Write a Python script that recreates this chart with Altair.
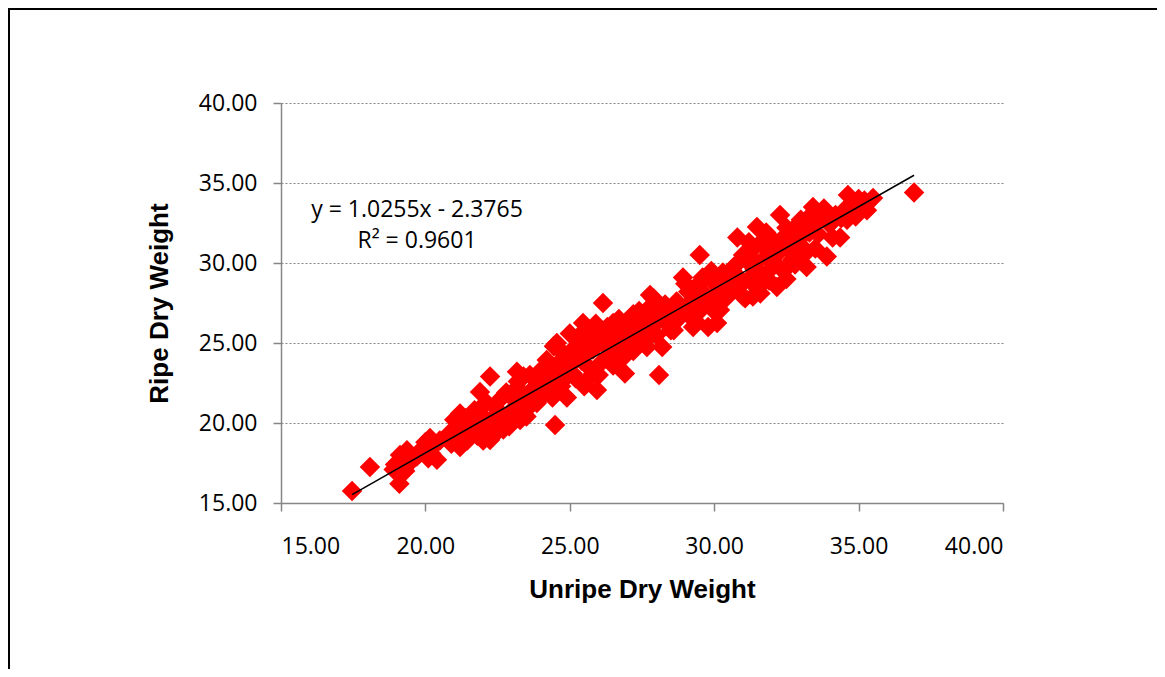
import altair as alt
import pandas as pd

# Unripe (x) and ripe (y) dry weights
unripe = [
    17.46, 18.08, 18.9, 19.1, 19.12, 19.36, 19.5, 19.3, 18.95,
    19.7, 19.9, 20.0, 20.16, 20.2, 20.4, 20.3, 20.1, 19.8, 20.5,
    20.8, 21.0, 21.09, 21.2, 21.0, 21.3, 21.4, 21.1, 21.5, 20.9, 21.2, 21.45,
    21.6, 21.7, 21.89, 21.8, 22.0, 22.1, 22.24, 22.24, 22.3, 22.4, 21.9, 22.0, 22.2, 22.5, 21.7, 22.4,
    22.6, 22.7, 22.8, 22.9, 23.0, 23.17, 23.1, 23.28, 23.3, 23.4, 23.5, 22.7, 23.2, 23.0, 22.9, 23.4, 23.5,
    23.62, 23.7, 23.86, 23.9, 24.0, 24.1, 24.2, 24.3, 24.4, 24.49, 23.8, 24.0, 24.3, 24.45, 24.2, 23.6, 24.5,
    24.55, 24.56, 24.6, 24.7, 24.8, 24.9, 25.0, 25.1, 25.2, 25.3, 25.46, 25.4, 25.5, 24.7, 25.0, 25.2, 25.4, 24.9, 25.1, 25.5,
    25.6, 25.7, 25.8, 25.94, 26.0, 26.15, 26.1, 26.2, 26.3, 26.4, 26.5, 25.7, 25.9, 26.0, 26.3, 25.6, 26.4, 26.5,
    26.6, 26.7, 26.8, 26.91, 26.98, 27.0, 27.08, 27.1, 27.2, 27.3, 27.4, 27.5, 26.7, 27.2, 26.9, 27.4,
    27.67, 27.78, 27.6, 27.7, 27.8, 27.9, 28.0, 28.09, 28.1, 28.2, 28.3, 28.4, 28.5, 27.9, 28.2, 28.5,
    28.6, 28.7, 28.8, 28.92, 29.0, 29.1, 29.2, 29.27, 29.3, 29.4, 29.5, 29.5, 29.6, 28.7, 29.0, 29.4,
    29.7, 29.79, 29.8, 29.9, 30.0, 30.1, 30.2, 30.2, 30.3, 30.4, 30.5, 29.9, 30.1, 30.4, 29.6,
    30.6, 30.7, 30.8, 30.8, 30.9, 31.0, 31.07, 31.1, 31.2, 31.3, 31.34, 31.4, 31.48, 31.5, 30.6, 31.0, 31.2, 31.45,
    31.6, 31.7, 31.8, 31.9, 32.0, 32.1, 32.17, 32.28, 32.3, 32.4, 32.5, 31.6, 31.8, 32.0, 32.2, 32.4, 32.5, 31.9,
    32.6, 32.7, 32.8, 32.9, 33.0, 33.1, 33.2, 33.3, 33.42, 33.5, 32.7, 33.0, 33.3, 33.4, 32.9, 33.5,
    33.6, 33.7, 33.9, 34.0, 34.1, 34.2, 34.36, 34.4, 33.8, 34.5,
    34.6, 34.63, 34.8, 35.0, 35.29, 35.5, 35.2, 34.9,
    36.92,
]
ripe = [
    15.75, 17.25, 17.1, 16.2, 18.0, 18.3, 17.6, 17.0, 17.4,
    17.9, 18.4, 18.8, 19.06, 18.1, 17.7, 18.6, 17.8, 18.1, 18.9,
    19.3, 20.2, 20.19, 18.5, 19.0, 19.6, 20.3, 19.8, 19.1, 18.7, 20.6, 18.9,
    20.0, 20.8, 21.94, 19.2, 20.4, 21.3, 22.9, 18.94, 20.0, 21.0, 19.6, 18.9, 19.4, 20.6, 19.9, 19.3,
    21.5, 20.2, 21.9, 19.8, 20.8, 23.2, 21.4, 20.19, 22.0, 20.9, 21.7, 19.6, 22.6, 21.9, 20.5, 22.9, 20.4,
    23.0, 21.2, 21.25, 22.4, 23.3, 21.8, 23.94, 22.5, 21.6, 19.87, 22.7, 22.0, 23.5, 24.8, 22.9, 21.9, 22.2,
    25.0, 24.75, 23.2, 22.3, 24.1, 21.6, 23.6, 24.6, 22.8, 25.4, 26.25, 23.9, 22.3, 23.8, 25.6, 24.1, 24.9, 22.9, 23.1, 24.3,
    25.7, 23.4, 24.6, 22.06, 25.3, 27.5, 23.8, 24.9, 26.0, 24.3, 26.25, 24.9, 26.2, 23.0, 25.5, 22.7, 25.2, 23.6,
    24.9, 25.7, 24.0, 23.1, 24.4, 26.3, 24.75, 25.6, 26.8, 26.44, 25.1, 26.0, 26.5, 24.5, 25.3, 27.0,
    24.75, 28.0, 26.6, 25.3, 27.3, 26.1, 25.5, 23.0, 26.9, 24.75, 27.4, 26.2, 25.8, 27.8, 26.5, 27.0,
    25.8, 27.6, 26.6, 29.1, 27.2, 28.2, 26.6, 26.0, 27.8, 28.6, 30.5, 27.0, 29.1, 26.9, 28.7, 26.3,
    28.0, 26.0, 27.5, 28.9, 27.0, 26.25, 27.06, 28.5, 29.4, 27.8, 29.0, 29.5, 28.1, 28.6, 27.4,
    28.3, 29.8, 31.6, 29.2, 28.6, 27.9, 27.8, 30.2, 29.0, 30.8, 27.9, 29.6, 32.25, 28.4, 29.6, 30.5, 31.3, 30.0,
    31.25, 29.2, 30.4, 28.9, 31.5, 30.0, 28.5, 33.0, 31.0, 29.5, 32.2, 28.1, 31.9, 29.7, 30.6, 31.6, 29.0, 30.9,
    30.8, 32.0, 29.9, 31.4, 32.7, 30.5, 29.75, 31.9, 33.5, 30.9, 30.2, 31.1, 32.9, 32.2, 32.4, 33.1,
    31.8, 32.9, 30.4, 32.4, 31.6, 33.0, 31.6, 32.8, 33.4, 33.3,
    32.7, 34.25, 33.7, 34.0, 33.3, 34.06, 33.9, 32.9,
    34.4,
]

# Trendline as displayed on the chart
slope = 1.0255
intercept = -2.3765
equation_text = "y = 1.0255x - 2.3765"
r2_text = "R² = 0.9601"

tick_values = [15, 20, 25, 30, 35, 40]

pts = pd.DataFrame({"Unripe": unripe, "Ripe": ripe})
x_lo, x_hi = min(unripe), max(unripe)
trend = pd.DataFrame({
    "Unripe": [x_lo, x_hi],
    "Ripe": [slope * x_lo + intercept, slope * x_hi + intercept],
})

LABEL_FONT = "Open Sans"
TITLE_FONT = "Liberation Sans"
AXIS_GREY = "#868686"

xscale = alt.Scale(domain=[15, 40], nice=False, zero=False)
yscale = alt.Scale(domain=[15, 40], nice=False, zero=False)

xaxis = alt.Axis(
    title="Unripe Dry Weight", values=tick_values, format=".2f", grid=False,
    domainColor=AXIS_GREY, domainWidth=1.5, tickColor=AXIS_GREY, tickWidth=1.5,
    tickSize=8, labelFont=LABEL_FONT, labelFontSize=23, labelColor="#000000",
    labelPadding=24, titleFont=TITLE_FONT, titleFontSize=26, titleFontWeight="bold",
    titleColor="#000000", titlePadding=18,
)
yaxis = alt.Axis(
    title="Ripe Dry Weight", values=tick_values, format=".2f", grid=True,
    gridColor=AXIS_GREY, gridDash=[2, 2], gridWidth=1,
    domainColor=AXIS_GREY, domainWidth=1.5, tickColor=AXIS_GREY, tickWidth=1.5,
    tickSize=8, labelFont=LABEL_FONT, labelFontSize=23, labelColor="#000000",
    labelPadding=16, titleFont=TITLE_FONT, titleFontSize=26, titleFontWeight="bold",
    titleColor="#000000", titlePadding=26,
)

points = alt.Chart(pts).mark_point(
    shape="diamond", filled=True, size=420, color="#FF0000", opacity=1, strokeWidth=0
).encode(
    x=alt.X("Unripe:Q", scale=xscale, axis=xaxis),
    y=alt.Y("Ripe:Q", scale=yscale, axis=yaxis),
)

line = alt.Chart(trend).mark_line(color="#000000", strokeWidth=1.5).encode(
    x=alt.X("Unripe:Q", scale=xscale),
    y=alt.Y("Ripe:Q", scale=yscale),
)

eq_df = pd.DataFrame({"t": [equation_text]})
r2_df = pd.DataFrame({"t": [r2_text]})
eq = alt.Chart(eq_df).mark_text(
    font=LABEL_FONT, fontSize=23, color="#000000", align="center", baseline="middle"
).encode(x=alt.value(136), y=alt.value(107), text="t:N")
r2 = alt.Chart(r2_df).mark_text(
    font=LABEL_FONT, fontSize=23, color="#000000", align="center", baseline="middle"
).encode(x=alt.value(136), y=alt.value(138), text="t:N")

frame_df = pd.DataFrame({"k": [0]})
frame_left = alt.Chart(frame_df).mark_rule(color="#000000", strokeWidth=2).encode(
    x=alt.value(-272), y=alt.value(-96), y2=alt.value(700)
)
frame_top = alt.Chart(frame_df).mark_rule(color="#000000", strokeWidth=2).encode(
    x=alt.value(-274), x2=alt.value(1000), y=alt.value(-94)
)

chart = alt.layer(points, line, eq, r2, frame_left, frame_top).properties(
    width=722, height=400,
    autosize=alt.AutoSizeParams(type="none"),
    padding={"left": 273, "top": 95, "right": 154, "bottom": 166},
).configure_view(stroke=None)

chart.save("out.html", embed_options={"renderer": "svg", "actions": False})
